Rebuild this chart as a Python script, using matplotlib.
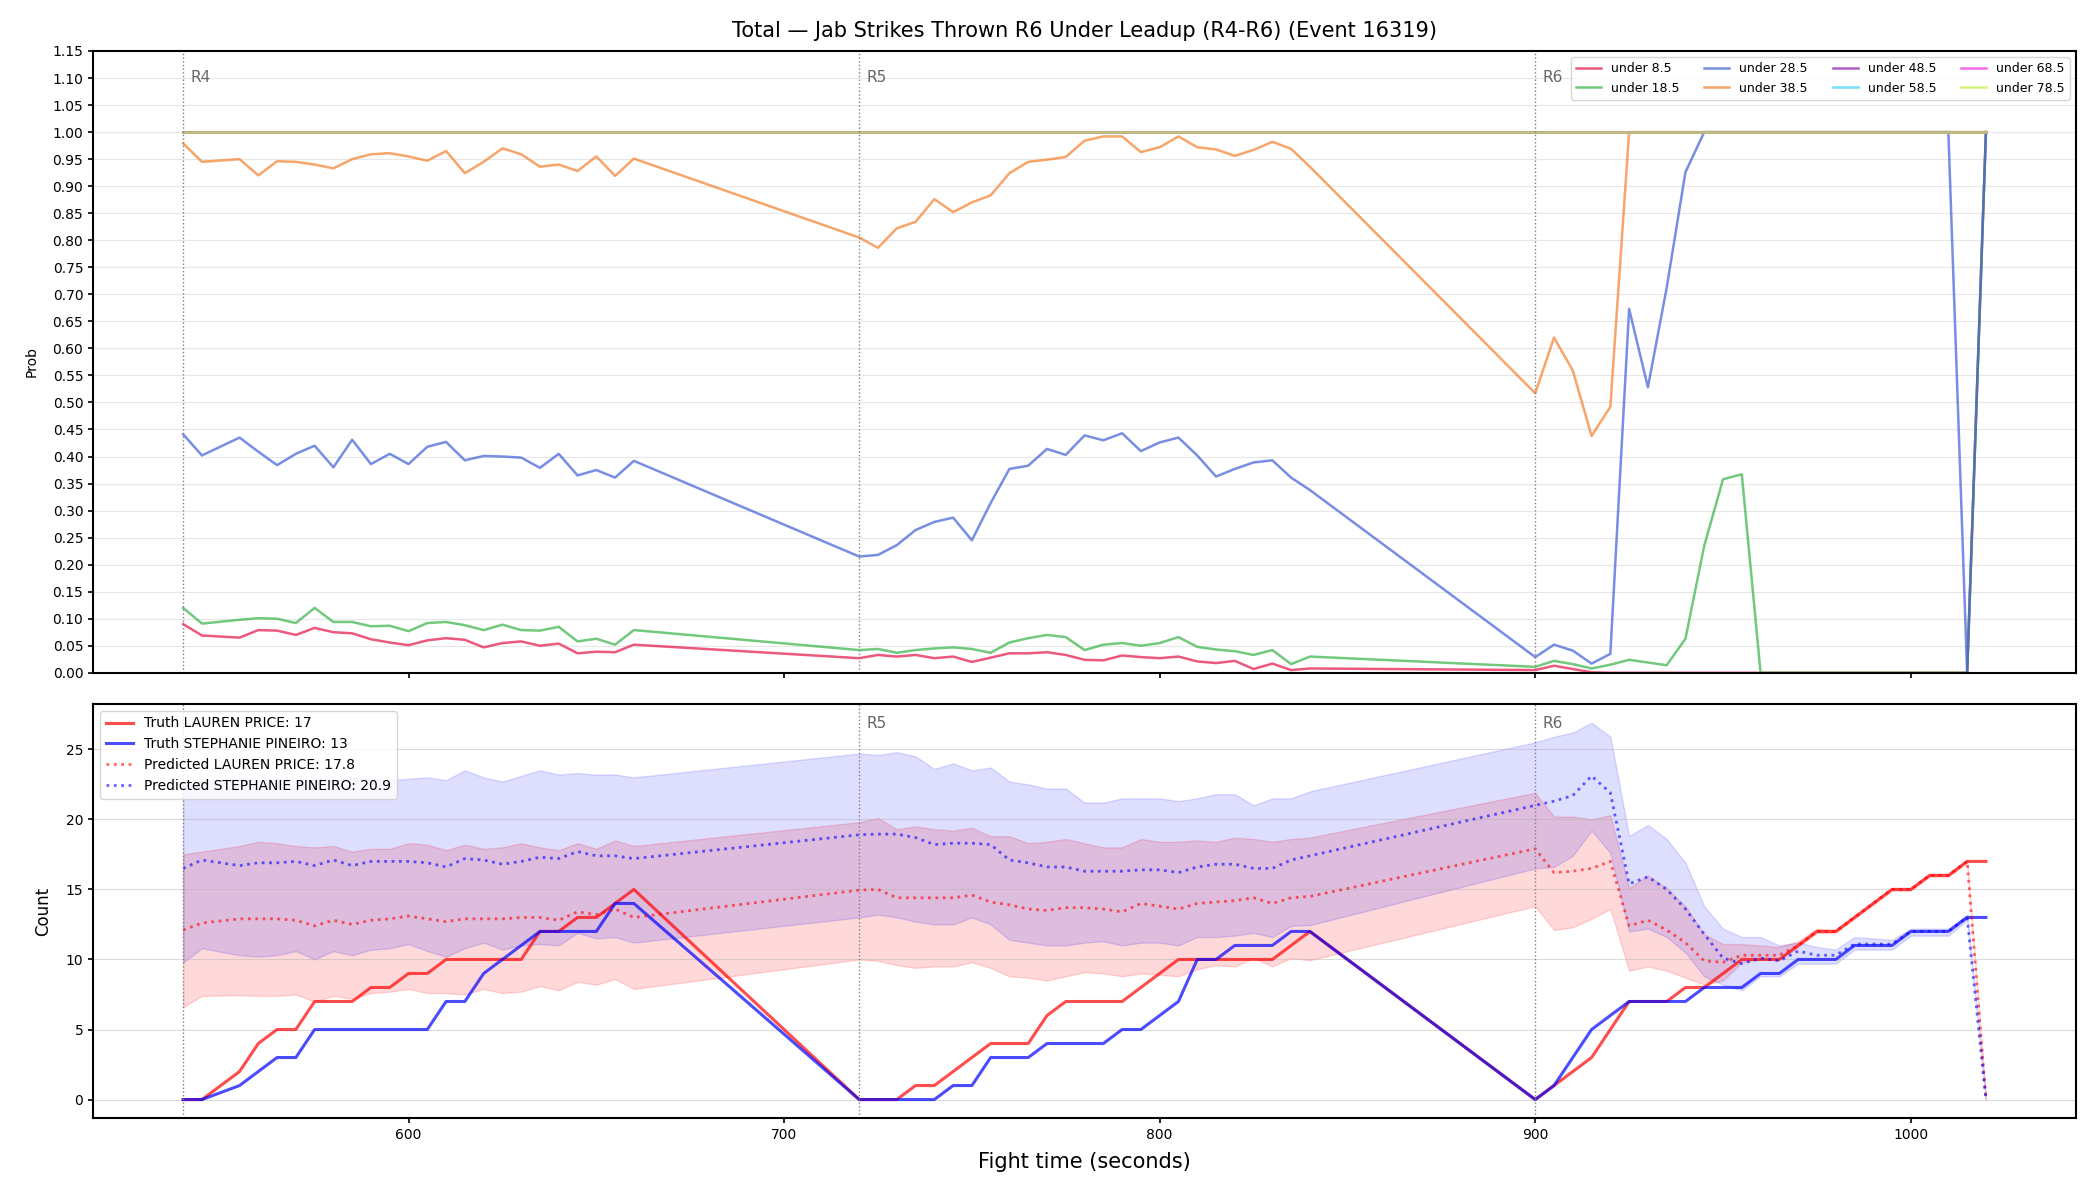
import matplotlib
matplotlib.use("Agg")
import matplotlib.pyplot as plt

plt.rcParams['axes.linewidth'] = 1.5
plt.rcParams['xtick.major.width'] = 1.2
plt.rcParams['ytick.major.width'] = 1.2

# fight time of each snapshot (s)
times = [540, 545, 555, 560, 565, 570, 575, 580, 585, 590, 595, 600, 605, 610, 615, 620, 625, 630, 635, 640, 645, 650, 655, 660,
         720, 725, 730, 735, 740, 745, 750, 755, 760, 765, 770, 775, 780, 785, 790, 795, 800, 805, 810, 815, 820, 825, 830, 835, 840,
         900, 905, 910, 915, 920, 925, 930, 935, 940, 945, 950, 955, 960, 965, 970, 975, 980, 985, 990, 995, 1000, 1005, 1010, 1015, 1020]

round_starts = [540, 720, 900]
round_labels = ['R4', 'R5', 'R6']

# P(total jabs under line)
under_8_5 = [0.090, 0.069, 0.065, 0.079, 0.078, 0.070, 0.083, 0.075, 0.073, 0.062, 0.056, 0.051, 0.060, 0.064, 0.061, 0.047, 0.055, 0.058, 0.050, 0.054, 0.036, 0.039, 0.038, 0.052,
             0.027, 0.033, 0.030, 0.033, 0.027, 0.030, 0.020, 0.028, 0.036, 0.036, 0.038, 0.033, 0.024, 0.023, 0.032, 0.029, 0.027, 0.030, 0.021, 0.018, 0.022, 0.007, 0.017, 0.005, 0.008,
             0.005, 0.013, 0.007, 0.001, 0.0, 0.0, 0.0, 0.0, 0.0, 0.0, 0.0, 0.0, 0.0, 0.0, 0.0, 0.0, 0.0, 0.0, 0.0, 0.0, 0.0, 0.0, 0.0, 0.0, 1.0]
under_18_5 = [0.120, 0.091, 0.098, 0.101, 0.100, 0.092, 0.120, 0.094, 0.094, 0.086, 0.087, 0.077, 0.092, 0.094, 0.088, 0.079, 0.089, 0.079, 0.078, 0.085, 0.058, 0.063, 0.052, 0.079,
              0.042, 0.044, 0.037, 0.042, 0.045, 0.047, 0.044, 0.037, 0.056, 0.064, 0.070, 0.066, 0.042, 0.052, 0.055, 0.050, 0.055, 0.066, 0.048, 0.043, 0.040, 0.033, 0.042, 0.016, 0.030,
              0.011, 0.022, 0.016, 0.008, 0.015, 0.024, 0.019, 0.014, 0.063, 0.235, 0.358, 0.367, 0.0, 0.0, 0.0, 0.0, 0.0, 0.0, 0.0, 0.0, 0.0, 0.0, 0.0, 0.0, 1.0]
under_28_5 = [0.441, 0.402, 0.435, 0.409, 0.384, 0.405, 0.420, 0.380, 0.431, 0.386, 0.405, 0.386, 0.418, 0.427, 0.393, 0.401, 0.400, 0.398, 0.379, 0.405, 0.365, 0.375, 0.361, 0.392,
              0.215, 0.218, 0.236, 0.264, 0.279, 0.287, 0.245, 0.314, 0.377, 0.383, 0.414, 0.403, 0.439, 0.430, 0.443, 0.410, 0.426, 0.435, 0.402, 0.363, 0.377, 0.389, 0.393, 0.361, 0.338,
              0.029, 0.052, 0.041, 0.017, 0.035, 0.673, 0.528, 0.712, 0.926, 1.0, 1.0, 1.0, 1.0, 1.0, 1.0, 1.0, 1.0, 1.0, 1.0, 1.0, 1.0, 1.0, 1.0, 0.0, 1.0]
under_38_5 = [0.979, 0.945, 0.950, 0.920, 0.946, 0.945, 0.940, 0.933, 0.950, 0.959, 0.961, 0.955, 0.947, 0.965, 0.924, 0.945, 0.970, 0.959, 0.936, 0.940, 0.928, 0.955, 0.919, 0.951,
              0.805, 0.786, 0.822, 0.834, 0.876, 0.852, 0.870, 0.883, 0.924, 0.945, 0.949, 0.954, 0.984, 0.992, 0.992, 0.963, 0.972, 0.992, 0.972, 0.968, 0.956, 0.967, 0.982, 0.969, 0.936,
              0.517, 0.620, 0.559, 0.438, 0.492, 1.0, 1.0, 1.0, 1.0, 1.0, 1.0, 1.0, 1.0, 1.0, 1.0, 1.0, 1.0, 1.0, 1.0, 1.0, 1.0, 1.0, 1.0, 1.0, 1.0]
under_48_5 = [1.0] * len(times)
under_58_5 = [1.0] * len(times)
under_68_5 = [1.0] * len(times)
under_78_5 = [1.0] * len(times)

prob_lines = [under_8_5, under_18_5, under_28_5, under_38_5, under_48_5, under_58_5, under_68_5, under_78_5]
prob_labels = ['under 8.5', 'under 18.5', 'under 28.5', 'under 38.5', 'under 48.5', 'under 58.5', 'under 68.5', 'under 78.5']
prob_colors = ['#e6194b', '#3cb44b', '#4363d8', '#f58231', '#911eb4', '#42d4f4', '#f032e6', '#bfef45']

# counts
truth_price = [0, 0, 2, 4, 5, 5, 7, 7, 7, 8, 8, 9, 9, 10, 10, 10, 10, 10, 12, 12, 13, 13, 14, 15,
               0, 0, 0, 1, 1, 2, 3, 4, 4, 4, 6, 7, 7, 7, 7, 8, 9, 10, 10, 10, 10, 10, 10, 11, 12,
               0, 1, 2, 3, 5, 7, 7, 7, 8, 8, 9, 10, 10, 10, 11, 12, 12, 13, 14, 15, 15, 16, 16, 17, 17]
truth_pineiro = [0, 0, 1, 2, 3, 3, 5, 5, 5, 5, 5, 5, 5, 7, 7, 9, 10, 11, 12, 12, 12, 12, 14, 14,
                 0, 0, 0, 0, 0, 1, 1, 3, 3, 3, 4, 4, 4, 4, 5, 5, 6, 7, 10, 10, 11, 11, 11, 12, 12,
                 0, 1, 3, 5, 6, 7, 7, 7, 7, 8, 8, 8, 9, 9, 10, 10, 10, 11, 11, 11, 12, 12, 12, 13, 13]

pred_price = [12.1, 12.6, 12.9, 12.9, 12.9, 12.8, 12.4, 12.8, 12.5, 12.8, 12.9, 13.1, 12.9, 12.7, 12.9, 12.9, 12.9, 13.0, 13.0, 12.8, 13.4, 13.2, 13.6, 13.0,
              14.95, 15.0, 14.4, 14.4, 14.4, 14.4, 14.6, 14.1, 13.9, 13.6, 13.5, 13.7, 13.7, 13.6, 13.4, 14.0, 13.8, 13.6, 14.0, 14.1, 14.2, 14.4, 14.0, 14.4, 14.5,
              17.9, 16.2, 16.3, 16.5, 17.0, 12.4, 12.8, 12.1, 11.2, 9.9, 9.8, 10.3, 10.3, 10.3, 11.0, 12.0, 12.0, 13.0, 14.0, 15.0, 15.0, 16.0, 16.0, 17.0, 0.0]
price_lo = [6.6, 7.4, 7.45, 7.4, 7.4, 7.5, 7.0, 7.4, 7.2, 7.6, 7.7, 7.9, 7.6, 7.6, 7.5, 7.9, 7.6, 7.7, 8.1, 7.8, 8.4, 8.2, 8.6, 7.9,
            10.0, 9.9, 9.6, 9.4, 9.5, 9.5, 9.8, 9.4, 8.8, 8.7, 8.5, 8.8, 9.1, 9.0, 8.8, 9.0, 8.9, 8.8, 9.3, 9.6, 9.5, 10.1, 9.5, 10.1, 9.95,
            13.8, 12.1, 12.3, 12.9, 13.6, 9.2, 9.5, 9.2, 8.7, 8.2, 8.5, 9.8, 10.0, 10.0, 10.9, 11.9, 11.9, 12.9, 13.9, 14.9, 14.9, 15.9, 15.9, 16.9, 0.0]
price_hi = [17.5, 17.7, 18.1, 18.4, 18.3, 18.1, 18.0, 18.1, 17.7, 17.9, 17.9, 18.3, 18.2, 17.8, 18.2, 17.9, 18.0, 18.3, 18.0, 17.8, 18.3, 17.9, 18.5, 18.1,
            19.8, 20.1, 19.3, 19.5, 19.3, 19.2, 19.4, 18.8, 18.8, 18.3, 18.4, 18.6, 18.3, 18.0, 18.0, 18.6, 18.4, 18.4, 18.5, 18.4, 18.7, 18.6, 18.4, 18.6, 18.7,
            21.9, 20.2, 20.2, 20.0, 20.3, 15.1, 16.0, 15.1, 13.8, 11.8, 11.1, 11.1, 11.0, 10.9, 11.3, 12.2, 12.1, 13.1, 14.1, 15.1, 15.1, 16.1, 16.1, 17.1, 0.0]

pred_pineiro = [16.5, 17.1, 16.7, 16.9, 16.9, 17.0, 16.7, 17.1, 16.7, 17.0, 17.0, 17.0, 16.9, 16.6, 17.2, 17.1, 16.8, 17.0, 17.3, 17.2, 17.7, 17.4, 17.4, 17.2,
                18.9, 18.95, 18.95, 18.7, 18.2, 18.3, 18.3, 18.2, 17.1, 16.9, 16.6, 16.6, 16.3, 16.3, 16.3, 16.4, 16.4, 16.2, 16.6, 16.8, 16.8, 16.5, 16.5, 17.1, 17.4,
                21.0, 21.3, 21.7, 23.1, 21.9, 15.4, 15.9, 15.0, 13.6, 11.8, 10.1, 9.7, 10.1, 9.9, 10.6, 10.3, 10.3, 11.1, 11.1, 11.1, 12.0, 12.0, 12.0, 13.0, 0.0]
pineiro_lo = [9.8, 10.8, 10.3, 10.2, 10.3, 10.6, 10.0, 10.6, 10.3, 10.7, 10.8, 11.1, 10.6, 10.2, 10.8, 11.2, 10.7, 11.0, 11.1, 11.0, 11.9, 11.5, 11.6, 11.2,
              13.0, 13.2, 13.0, 12.7, 12.5, 12.5, 13.0, 12.5, 11.4, 11.2, 11.0, 11.0, 11.2, 11.3, 11.0, 11.2, 11.2, 11.0, 11.6, 11.6, 11.7, 11.9, 11.6, 12.4, 12.45,
              16.5, 16.6, 17.4, 19.2, 17.6, 12.0, 12.2, 11.6, 10.5, 8.8, 8.2, 7.8, 8.8, 8.8, 9.7, 9.7, 9.7, 10.7, 10.7, 10.7, 11.7, 11.7, 11.7, 12.8, 0.0]
pineiro_hi = [22.3, 22.8, 22.9, 22.8, 22.9, 22.7, 22.9, 22.8, 23.0, 22.9, 22.8, 22.9, 23.0, 22.8, 23.5, 23.0, 22.7, 23.1, 23.5, 23.2, 23.3, 23.2, 23.2, 23.0,
              24.7, 24.6, 24.8, 24.5, 23.6, 24.0, 23.5, 23.7, 22.7, 22.5, 22.2, 22.2, 21.2, 21.2, 21.5, 21.5, 21.5, 21.3, 21.5, 21.8, 21.8, 21.0, 21.5, 21.5, 22.0,
              25.5, 25.9, 26.2, 26.9, 25.9, 18.8, 19.6, 18.6, 16.9, 13.8, 12.2, 11.6, 11.6, 11.0, 11.2, 10.9, 10.7, 11.6, 11.5, 11.4, 12.2, 12.2, 12.2, 13.2, 0.0]

fig, (ax1, ax2) = plt.subplots(2, 1, figsize=(21, 12), dpi=100, sharex=True,
                               gridspec_kw={'height_ratios': [3, 2]})
fig.subplots_adjust(left=0.0443, right=0.9886, top=0.9575, bottom=0.068, hspace=0.06)

# top: probabilities
for vals, lab, col in zip(prob_lines, prob_labels, prob_colors):
    ax1.plot(times, vals, color=col, lw=1.8, alpha=0.72, label=lab)
ax1.set_ylim(0, 1.15)
ax1.set_yticks([i * 0.05 for i in range(24)])
ax1.set_ylabel('Prob', fontsize=10, labelpad=10)
ax1.grid(axis='y', alpha=0.3)
ax1.legend(loc='upper right', ncol=4, fontsize=9)
ax1.set_title('Total \u2014 Jab Strikes Thrown R6 Under Leadup (R4-R6) (Event 16319)', fontsize=15, pad=10)

# bottom: counts
ax2.fill_between(times, price_lo, price_hi, color='red', alpha=0.15)
ax2.fill_between(times, pineiro_lo, pineiro_hi, color='blue', alpha=0.13)
ax2.plot(times, truth_price, color='red', lw=2.2, alpha=0.7, label='Truth LAUREN PRICE: 17')
ax2.plot(times, truth_pineiro, color='blue', lw=2.2, alpha=0.7, label='Truth STEPHANIE PINEIRO: 13')
ax2.plot(times, pred_price, color='red', lw=2, ls=':', alpha=0.6, label='Predicted LAUREN PRICE: 17.8')
ax2.plot(times, pred_pineiro, color='blue', lw=2, ls=':', alpha=0.6, label='Predicted STEPHANIE PINEIRO: 20.9')
ax2.set_ylabel('Count', fontsize=12, labelpad=10)
ax2.set_xlabel('Fight time (seconds)', fontsize=15, labelpad=7)
ax2.grid(axis='y', alpha=0.45)
ax2.legend(loc='upper left', fontsize=10)

for ax in (ax1, ax2):
    for x, lab in zip(round_starts, round_labels):
        ax.axvline(x, color='gray', ls=':', lw=1)
        # R4 label of the count panel sits under its legend, so it is not drawn
        if ax is ax2 and lab == 'R4':
            continue
        ax.text(x + 2, 0.97, lab, transform=ax.get_xaxis_transform(),
                va='top', ha='left', color='#666666', fontsize=11)

plt.savefig('out.png', dpi=100)
